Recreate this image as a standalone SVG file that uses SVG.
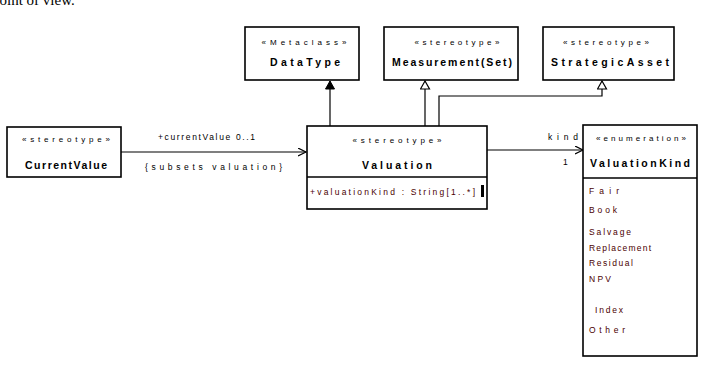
<svg xmlns="http://www.w3.org/2000/svg" width="718" height="366" viewBox="0 0 718 366">
<style>
  .box{fill:#fff;stroke:#000;stroke-width:1.6}
  .div{stroke:#000;stroke-width:1.4}
  .st{font-family:"Liberation Sans",Arial,sans-serif;font-size:8px;fill:#000;text-anchor:middle}
  .nm{font-family:"Liberation Sans",Arial,sans-serif;font-size:10.5px;font-weight:bold;fill:#000;text-anchor:middle}
  .lt{font-family:"Liberation Sans",Arial,sans-serif;font-size:8.5px;fill:#4a0000}
  .lb{font-family:"Liberation Sans",Arial,sans-serif;font-size:8.5px;fill:#000}
  .ln{fill:none;stroke:#000;stroke-width:1.2}
  .pg{font-family:"Liberation Serif","Times New Roman",serif;font-size:15px;fill:#000}
</style>
<defs>
  <marker id="open" markerWidth="10" markerHeight="10" refX="8" refY="4" orient="auto" markerUnits="userSpaceOnUse">
    <path d="M0,0 L8,4 L0,8" fill="none" stroke="#000" stroke-width="1.2"/>
  </marker>
  <marker id="gen" markerWidth="12" markerHeight="12" refX="9" refY="5" orient="auto" markerUnits="userSpaceOnUse">
    <path d="M1,0.5 L9,5 L1,9.5 Z" fill="#fff" stroke="#000" stroke-width="1.2"/>
  </marker>
  <marker id="ext" markerWidth="12" markerHeight="12" refX="9" refY="5" orient="auto" markerUnits="userSpaceOnUse">
    <path d="M1,0.5 L9,5 L1,9.5 Z" fill="#000" stroke="#000" stroke-width="1"/>
  </marker>
</defs>
<rect x="0" y="0" width="718" height="366" fill="#fff"/>
<text class="pg" x="-8" y="5">point of view.</text>

<g id="connectors">
  <line class="ln" x1="330" y1="126" x2="330" y2="81" marker-end="url(#ext)"/>
  <line class="ln" x1="425" y1="126" x2="425" y2="81" marker-end="url(#gen)"/>
  <polyline class="ln" points="439,126 439,96 602,96 602,81" marker-end="url(#gen)"/>
  <line class="ln" x1="121" y1="152" x2="306" y2="152" marker-end="url(#open)"/>
  <text class="lb" x="158" y="140" textLength="97" lengthAdjust="spacing">+currentValue 0..1</text>
  <text class="lb" x="145" y="170" textLength="137" lengthAdjust="spacing">{subsets valuation}</text>
  <line class="ln" x1="487" y1="150" x2="583" y2="150" marker-end="url(#open)"/>
  <text class="lb" x="548" y="140" textLength="30" lengthAdjust="spacing">kind</text>
  <text class="lb" x="563" y="165">1</text>
</g>

<g id="DataType">
  <rect class="box" x="245" y="27" width="114" height="53"/>
  <text class="st" x="304" y="45" textLength="85" lengthAdjust="spacing">«Metaclass»</text>
  <text class="nm" x="305" y="66" textLength="70" lengthAdjust="spacing">DataType</text>
</g>

<g id="MeasurementSet">
  <rect class="box" x="384" y="27" width="134" height="53"/>
  <text class="st" x="457" y="45" textLength="85" lengthAdjust="spacing">«stereotype»</text>
  <text class="nm" x="452" y="66" textLength="120" lengthAdjust="spacing">Measurement(Set)</text>
</g>

<g id="StrategicAsset">
  <rect class="box" x="543" y="27" width="131" height="53"/>
  <text class="st" x="606" y="45" textLength="86" lengthAdjust="spacing">«stereotype»</text>
  <text class="nm" x="610" y="66" textLength="118" lengthAdjust="spacing">StrategicAsset</text>
</g>

<g id="CurrentValue">
  <rect class="box" x="7" y="127" width="114" height="50"/>
  <text class="st" x="66" y="142" textLength="88" lengthAdjust="spacing">«stereotype»</text>
  <text class="nm" x="66" y="169" textLength="82" lengthAdjust="spacing">CurrentValue</text>
</g>

<g id="Valuation">
  <rect class="box" x="307" y="126" width="180" height="83"/>
  <line class="div" x1="307" y1="177" x2="487" y2="177"/>
  <text class="st" x="397" y="143" textLength="89" lengthAdjust="spacing">«stereotype»</text>
  <text class="nm" x="397" y="169" textLength="70" lengthAdjust="spacing">Valuation</text>
  <text class="lt" x="310" y="195" textLength="165" lengthAdjust="spacing">+valuationKind : String[1..*]</text>
  <rect x="481" y="185" width="3" height="12" fill="#000"/>
</g>

<g id="ValuationKind">
  <rect class="box" x="583" y="125" width="114" height="231"/>
  <line class="div" x1="583" y1="178" x2="697" y2="178"/>
  <text class="st" x="641" y="141" textLength="90" lengthAdjust="spacing">«enumeration»</text>
  <text class="nm" x="640" y="167" textLength="100" lengthAdjust="spacing">ValuationKind</text>
  <text class="lt" x="589" y="194" textLength="30" lengthAdjust="spacing">Fair</text>
  <text class="lt" x="589" y="213" textLength="28" lengthAdjust="spacing">Book</text>
  <text class="lt" x="589" y="235" textLength="42" lengthAdjust="spacing">Salvage</text>
  <text class="lt" x="589" y="251" textLength="62" lengthAdjust="spacing">Replacement</text>
  <text class="lt" x="589" y="266" textLength="44" lengthAdjust="spacing">Residual</text>
  <text class="lt" x="589" y="282" textLength="22" lengthAdjust="spacing">NPV</text>
  <text class="lt" x="595" y="313" textLength="28" lengthAdjust="spacing">Index</text>
  <text class="lt" x="589" y="333" textLength="36" lengthAdjust="spacing">Other</text>
</g>
</svg>
